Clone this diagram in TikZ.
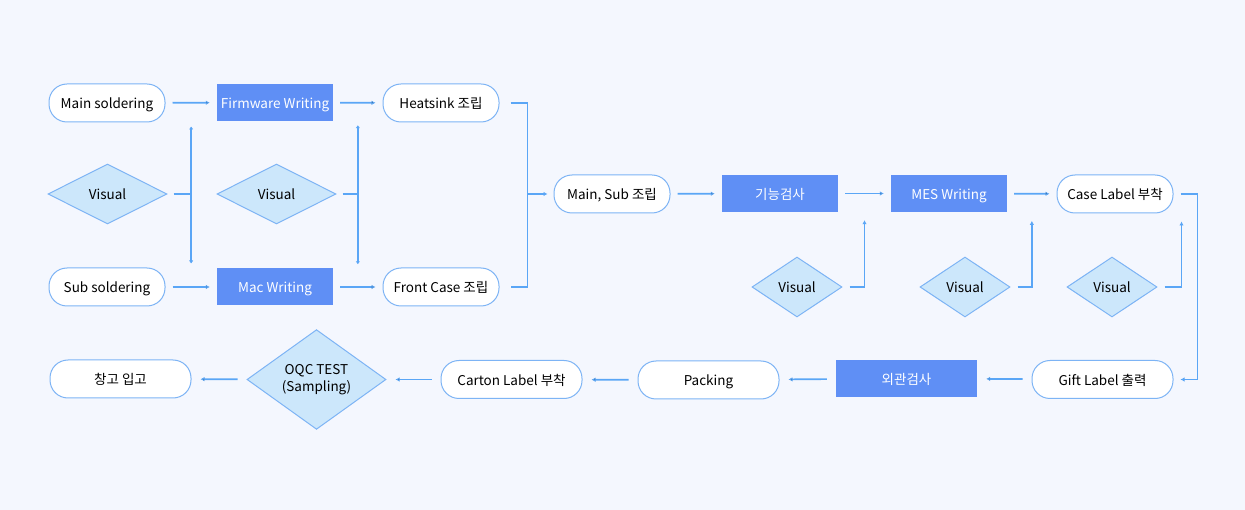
\documentclass[tikz,border=0pt]{standalone}
\usepackage{fontspec}
\setmainfont{Noto Sans CJK KR}
\usetikzlibrary{arrows.meta,shapes.geometric,calc}
\definecolor{PageBlue}{HTML}{F4F7FE}
\definecolor{LineBlue}{HTML}{5AA6F6}
\definecolor{EdgeBlue}{HTML}{7DB4F5}
\definecolor{TaskBlue}{HTML}{5F8FF5}
\definecolor{CheckBlue}{HTML}{CCE7FB}

\begin{document}
\begin{tikzpicture}
  [x=1pt,y=-1pt,
   every node/.style={font=\fontsize{13.5}{17}\selectfont,inner sep=0pt,text height=12pt,text depth=0.5pt},
   proc/.style={rectangle,rounded corners=18pt,draw=EdgeBlue,line width=1pt,fill=white,minimum width=116pt,minimum height=38pt},
   wide/.style={minimum width=141pt},
   task/.style={rectangle,fill=TaskBlue,text=white,minimum width=116pt,minimum height=37pt},
   check/.style={diamond,draw=EdgeBlue,line width=1pt,fill=CheckBlue,minimum width=119pt,minimum height=60pt},
   flow/.style={draw=LineBlue,line width=1.7pt,-{Latex[length=4pt,width=4.5pt]}},
   link/.style={draw=LineBlue,line width=1.7pt}]
  \fill[PageBlue] (0,0) rectangle (1245,510);
  \useasboundingbox (0,0) rectangle (1245,510);

  % first block
  \node (ms) [proc] at (107,103) {Main soldering};
  \node (fw) [task] at (275,102.5) {Firmware Writing};
  \node (hs) [proc] at (441,103) {Heatsink 조립};
  \node (v1) [check] at (107.5,194) {Visual};
  \node (v2) [check] at (276.5,194) {Visual};
  \node (ss) [proc] at (107,287) {Sub soldering};
  \node (mw) [task] at (275,287) {Mac Writing};
  \node (fc) [proc] at (441,287) {Front Case 조립};

  % second row
  \node (mj) [proc] at (612,194) {Main, Sub 조립};
  \node (fn) [task] at (780,193.5) {기능검사};
  \node (mes) [task] at (949,193.5) {MES Writing};
  \node (cl) [proc] at (1115,194) {Case Label 부착};
  \node (v3) [check,minimum width=90pt] at (797,287) {Visual};
  \node (v4) [check,minimum width=90pt] at (965,287) {Visual};
  \node (v5) [check,minimum width=90pt] at (1112,287) {Visual};

  % last row
  \node (gl) [proc,wide] at (1102.5,379.5) {Gift Label 출력};
  \node (ex) [task,wide] at (906.5,378.5) {외관검사};
  \node (pk) [proc,wide] at (708.5,380) {Packing};
  \node (cb) [proc,wide] at (511.5,379.5) {Carton Label 부착};
  \node (oqc) [check,minimum width=139pt,minimum height=93pt,align=center,text height=,text depth=] at (316.5,379.5) {OQC TEST\\(Sampling)};
  \node (wh) [proc,wide] at (120.5,379) {창고 입고};

  \coordinate (j0) at ($(hs.east)+(28,0)$);
  \coordinate (j1) at ($(ms.east)!.5!(fw.west)$);
  \coordinate (j2) at ($(fw.east)!.5!(hs.west)$);
  \coordinate (j3) at ($(fn.south east)!.5!(mes.south west)$);
  \coordinate (j4) at ($(mes.south east)!.5!(cl.south west)$);
  \coordinate (j5) at ($(cl.south east)+(8,0)$);

  \path[flow,shorten <=7pt,shorten >=7pt]
    (ms) edge (fw) (ss) edge (mw)
    (fw) edge (hs) (mw) edge (fc)
    (mj) edge (fn) (fn) edge (mes) (mes) edge (cl);
  \draw[link,{Latex[length=3pt,width=4.5pt]}-{Latex[length=3pt,width=4.5pt]},shorten <=4pt,shorten >=4pt]
    (j1 |- ms.south) -- (j1 |- ss.north);
  \draw[link,{Latex[length=3pt,width=4.5pt]}-{Latex[length=3pt,width=4.5pt]},shorten <=4pt,shorten >=4pt]
    (j2 |- fw.south) -- (j2 |- mw.north);
  \draw[link,shorten <=6pt] (v1.east) -- (v1.east -| j1);
  \draw[link,shorten <=6pt] (v2.east) -- (v2.east -| j2);

  % merge into Main, Sub
  \draw[link,shorten <=11pt,shorten >=11pt] (hs.east) -- (j0) |- (fc.east);
  \draw[flow,shorten >=6pt] (j0 |- mj.west) -- (mj.west);

  % visual checks below
  \draw[flow,shorten <=7pt,shorten >=8pt] (v3.east) -| (j3);
  \draw[flow,shorten <=7pt,shorten >=8pt] (v4.east) -| (j4);
  \draw[flow,shorten <=7pt,shorten >=8pt] (v5.east) -| (j5);

  % down to the last row
  \draw[flow,shorten <=7pt,shorten >=7pt] (cl.east) -- ++(24,0) |- (gl.east);
  \path[flow,shorten <=9pt,shorten >=9pt]
    (gl) edge (ex) (ex) edge (pk) (pk) edge (cb)
    (cb) edge (oqc) (oqc) edge (wh);
\end{tikzpicture}
\end{document}
